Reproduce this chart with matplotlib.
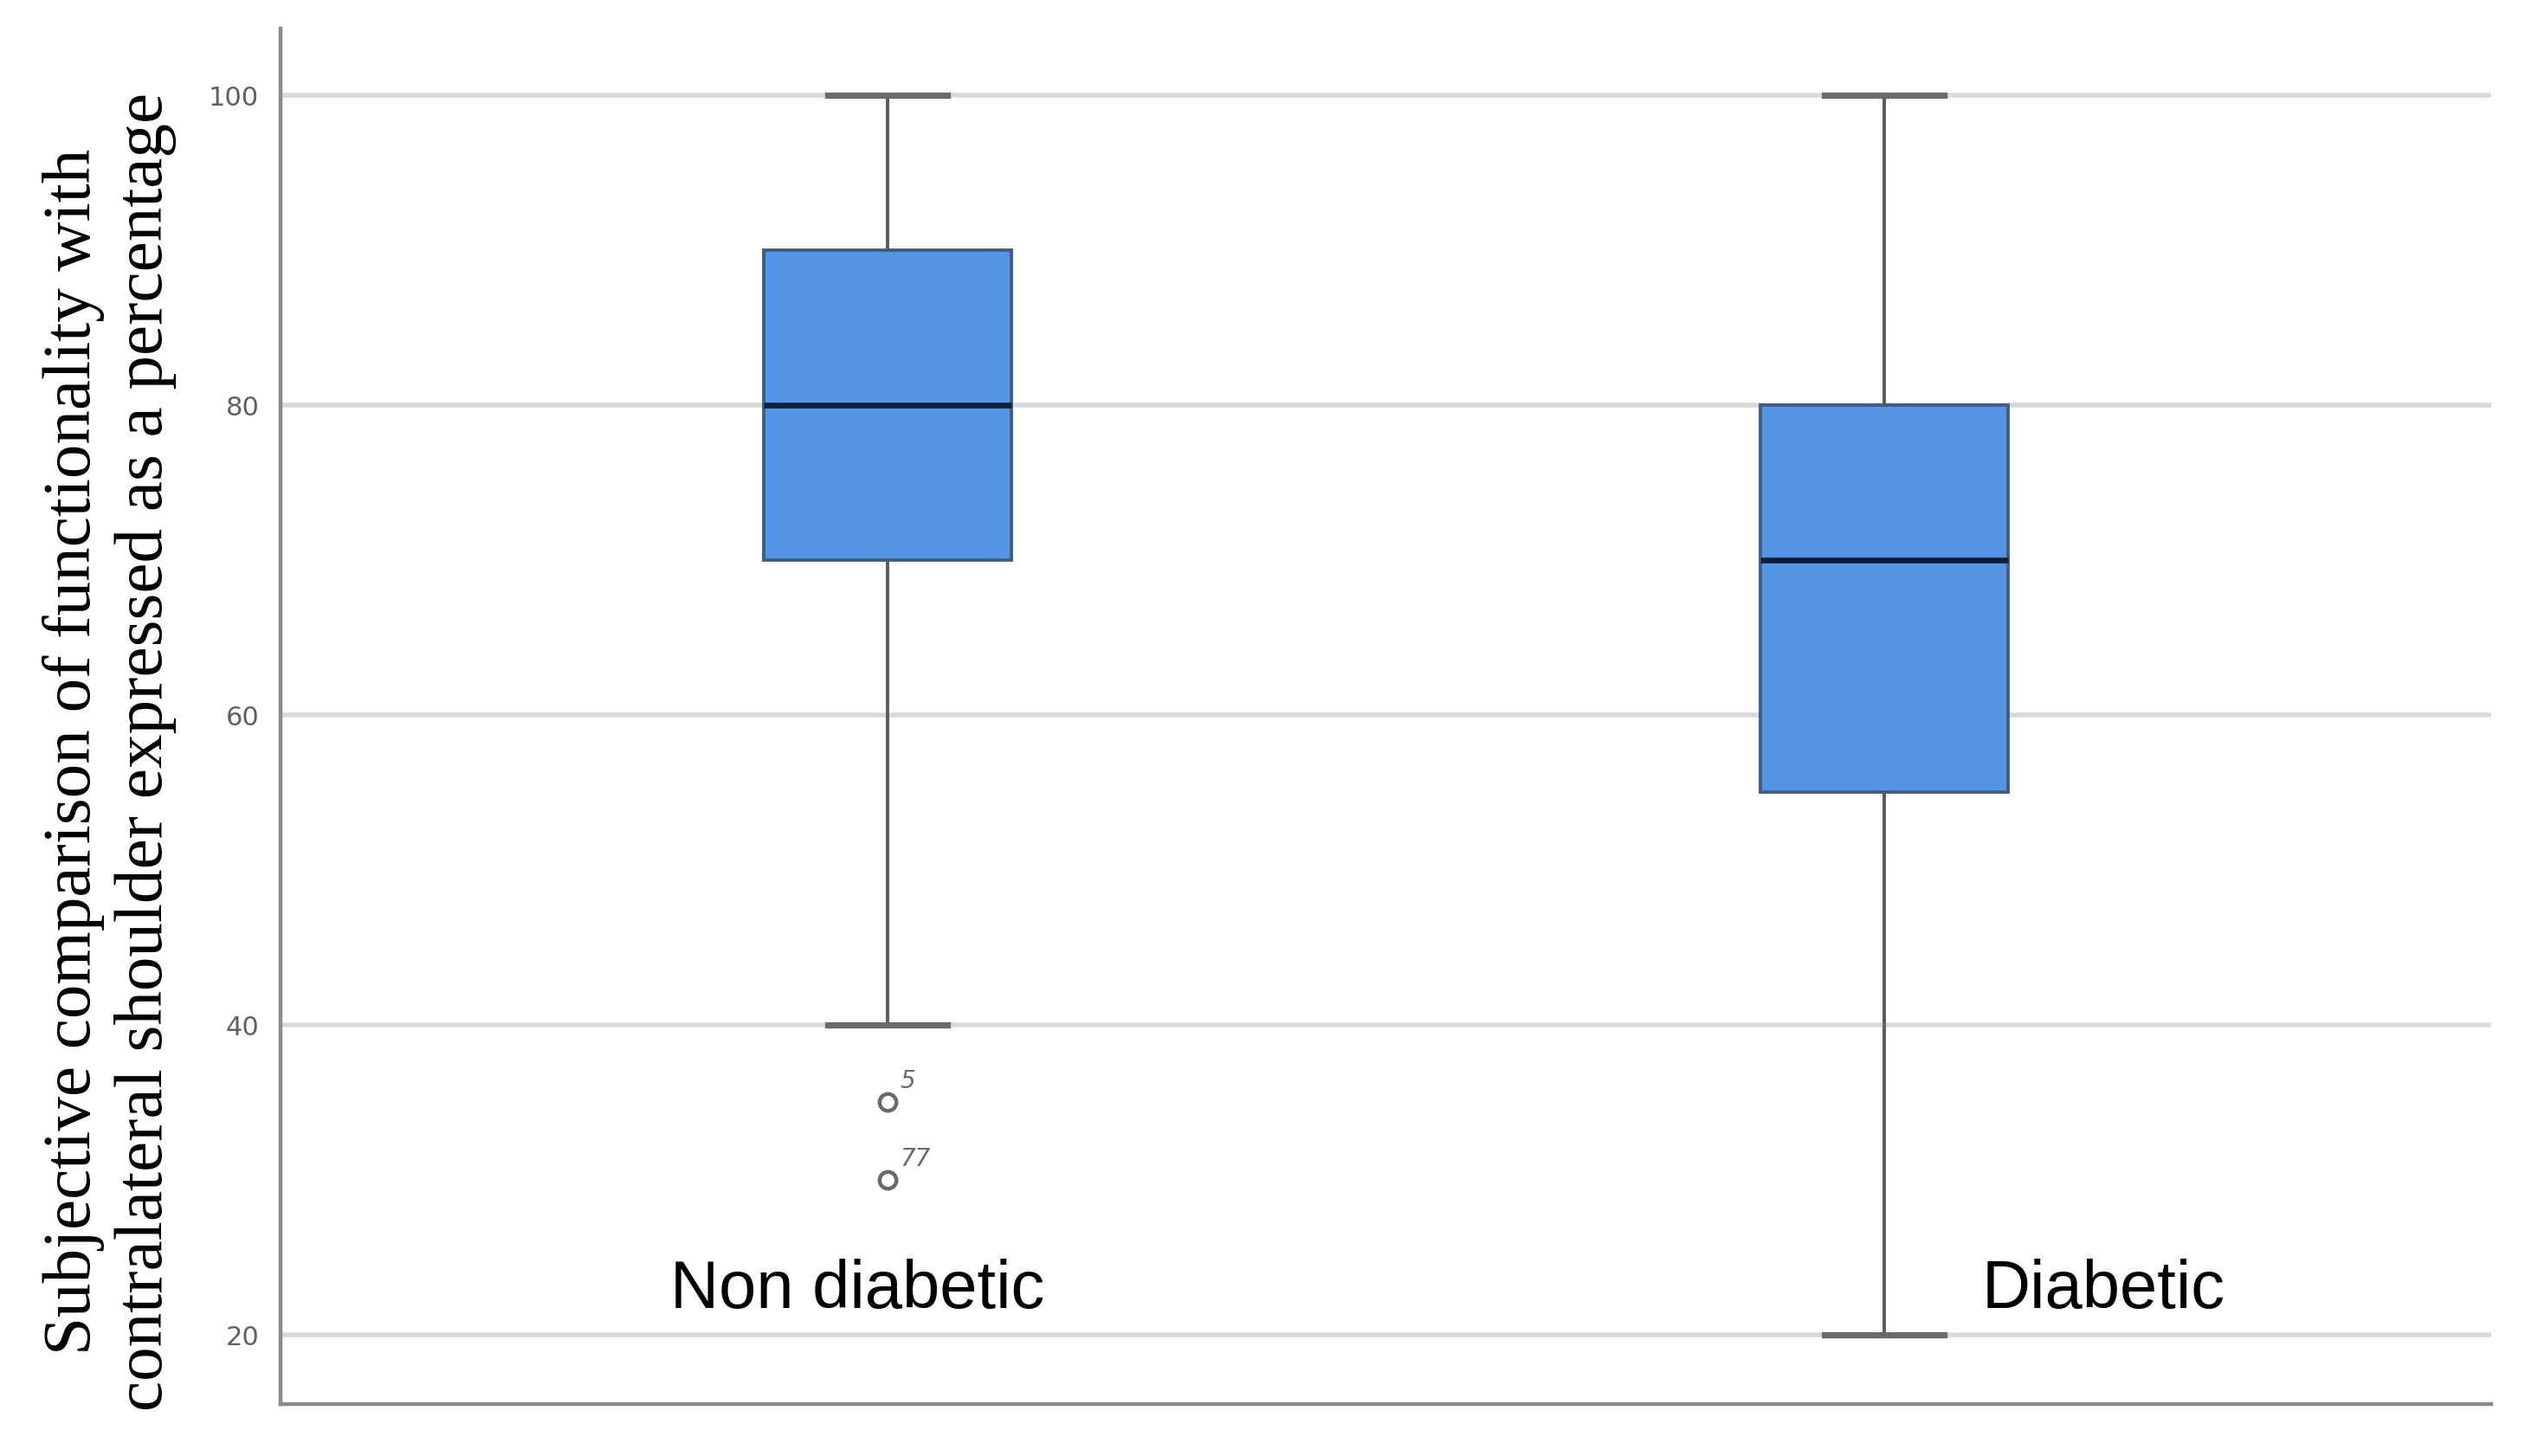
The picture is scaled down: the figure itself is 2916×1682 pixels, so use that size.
import matplotlib.pyplot as plt

# Box statistics
groups = ['Non diabetic', 'Diabetic']
medians = [80, 70]
q1 = [70, 55]
q3 = [90, 80]
whisker_low = [40, 20]
whisker_high = [100, 100]
outliers = [[35, 30], []]
outlier_ids = [['5', '77'], []]
yticks = [20, 40, 60, 80, 100]

positions = [1, 2]

fig = plt.figure(figsize=(14.58, 8.415), dpi=200)
ax = fig.add_axes([0.1112, 0.0356, 0.8753, 0.9444])

stats = []
for i, name in enumerate(groups):
    stats.append({
        'label': name,
        'med': medians[i],
        'q1': q1[i],
        'q3': q3[i],
        'whislo': whisker_low[i],
        'whishi': whisker_high[i],
        'fliers': outliers[i],
    })

ax.bxp(stats, positions=positions, widths=0.249, capwidths=0.12, patch_artist=True,
       boxprops=dict(facecolor='#5595e3', edgecolor='#3f5f86', linewidth=1.4),
       medianprops=dict(color='#0f1e3a', linewidth=2.4),
       whiskerprops=dict(color='#5a5a5a', linewidth=1.4),
       capprops=dict(color='#6a6a6a', linewidth=2.6),
       flierprops=dict(marker='o', markerfacecolor='none', markeredgecolor='#6a6a6a',
                       markeredgewidth=1.6, markersize=7),
       zorder=3)

# outlier case numbers
for i, ids in enumerate(outlier_ids):
    for val, lab in zip(outliers[i], ids):
        ax.annotate(lab, xy=(positions[i], val), xytext=(5, 6), textcoords='offset points',
                    fontsize=10, color='#6a6a6a', style='italic', fontfamily='Liberation Sans Narrow')

# group labels drawn inside the plot
ax.text(positions[0] - 0.03, 22.9, groups[0], ha='center', va='center',
        fontsize=28, fontfamily='Liberation Sans', color='black')
ax.text(positions[1] + 0.22, 22.9, groups[1], ha='center', va='center',
        fontsize=28, fontfamily='Liberation Sans', color='black')

ax.set_xlim(0.391, 2.609)
ax.set_ylim(15.5, 104.3)
ax.set_yticks(yticks)
ax.set_yticklabels([str(t) for t in yticks], fontsize=11, color='#606060',
                   fontfamily='Liberation Sans Narrow')
ax.set_xticks([])
ax.tick_params(axis='y', length=0, pad=9)

ax.grid(axis='y', color='#d9d9d9', linewidth=2, zorder=0)
ax.set_axisbelow(True)

for side in ['top', 'right']:
    ax.spines[side].set_visible(False)
for side in ['left', 'bottom']:
    ax.spines[side].set_color('#8a8a8a')
    ax.spines[side].set_linewidth(1.6)

ax.set_ylabel('Subjective comparison of functionality with\n'
              'contralateral shoulder expressed as a percentage',
              fontsize=28.5, fontfamily='Liberation Serif', linespacing=1.2)
ax.yaxis.set_label_coords(-0.047, 0.475)

fig.savefig('out.png', dpi=200, facecolor='white')
